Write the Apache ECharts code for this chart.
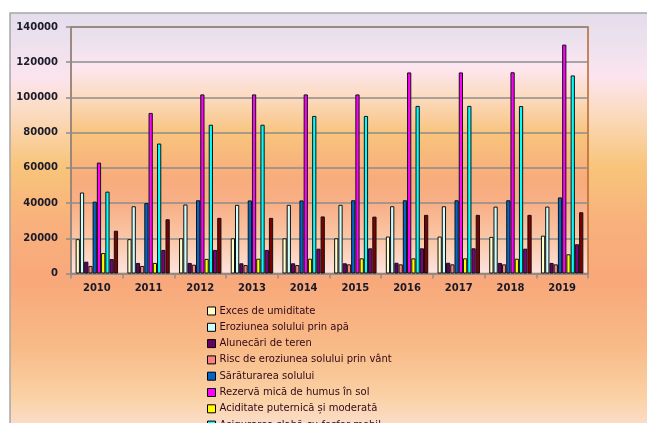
<!DOCTYPE html>
<html>
<head>
<meta charset="utf-8">
<script src="https://cdn.jsdelivr.net/npm/echarts@6/dist/echarts.min.js"></script>
<style>html,body{margin:0;padding:0;background:#fff}#c{width:647px;height:423px}</style>
</head>
<body>
<div id="c"></div>
<script>
var years = ['2010','2011','2012','2013','2014','2015','2016','2017','2018','2019'];
var seriesNames = [
  'Exces de umiditate',
  'Eroziunea solului prin apă',
  'Alunecări de teren',
  'Risc de eroziunea solului prin vânt',
  'Sărăturarea solului',
  'Rezervă mică de humus în sol',
  'Aciditate puternică și moderată',
  'Asigurarea slabă cu fosfor mobil',
  'Asigurarea slabă cu potasiu mobil',
  'Compactarea solului'
];
var excesUmiditate   = [19500, 19500, 20000, 20000, 20000, 20000, 21000, 21000, 20800, 21500];
var eroziuneApa      = [46000, 38200, 39200, 39000, 39000, 39000, 38200, 38200, 38000, 38000];
var alunecari        = [6700, 6000, 6000, 5800, 5800, 5800, 6100, 6100, 6000, 6000];
var riscVant         = [4300, 4300, 5000, 4800, 4800, 5200, 5200, 5200, 5200, 5200];
var saraturare       = [40800, 40000, 41600, 41500, 41500, 41600, 41600, 41600, 41600, 43200];
var humus            = [63000, 91200, 101700, 101700, 101700, 101700, 114200, 114200, 114300, 130000];
var aciditate        = [11600, 6000, 8300, 8400, 8400, 8600, 8600, 8600, 8400, 10900];
var fosfor           = [46500, 73800, 84500, 84500, 89500, 89500, 95200, 95200, 95100, 112500];
var potasiu          = [8200, 13400, 13400, 13400, 14100, 14300, 14300, 14300, 14100, 16600];
var compactare       = [24300, 30800, 31600, 31600, 32400, 32300, 33300, 33300, 33300, 34800];
var allData = [excesUmiditate, eroziuneApa, alunecari, riscVant, saraturare, humus, aciditate, fosfor, potasiu, compactare];
var colors = ['#FFFFCC','#CCFFFF','#660066','#FF8080','#0066CC','#FF00FF','#FFFF00','#00FFFF','#800080','#800000'];
var yTicks = {min: 0, max: 140000, interval: 20000};

var chart = echarts.init(document.getElementById('c'), null, {renderer: 'canvas'});

function lg(stops) {
  return new echarts.graphic.LinearGradient(0, 0, 0, 1, stops);
}

var outerTop = 13, outerBottom = 423;
function off(y){ return (y - outerTop) / (outerBottom - outerTop); }
var outerGrad = lg([
  {offset: 0, color: '#E4DDEC'},
  {offset: off(45), color: '#EEE1EE'},
  {offset: off(75), color: '#FCE4EE'},
  {offset: off(105), color: '#FBDCC4'},
  {offset: off(160), color: '#F8C47A'},
  {offset: off(215), color: '#F8B07C'},
  {offset: off(268), color: '#F8A87A'},
  {offset: off(330), color: '#F8BA86'},
  {offset: off(380), color: '#FAD2A6'},
  {offset: 1, color: '#FCE4E2'}
]);

var gTop = 27, gBot = 273.5;
function po(y){ return (y - gTop) / (gBot - gTop); }
var plotGrad = lg([
  {offset: 0, color: '#E6DFEC'},
  {offset: po(45), color: '#EEE2EE'},
  {offset: po(68), color: '#FDE6F0'},
  {offset: po(95), color: '#FCDCC4'},
  {offset: po(135), color: '#F8C37C'},
  {offset: po(180), color: '#F8AC7C'},
  {offset: po(205), color: '#F8B088'},
  {offset: po(240), color: '#FAC8A8'},
  {offset: 1, color: '#FDE4E0'}
]);

var series = allData.map(function(d, i){
  return {
    name: seriesNames[i],
    type: 'bar',
    data: d,
    barGap: '0%',
    barCategoryGap: '18%',
    itemStyle: {color: colors[i], borderColor: '#111', borderWidth: 1},
    emphasis: {disabled: true},
    animation: false
  };
});

chart.setOption({
  animation: false,
  color: colors,
  graphic: [
    {type: 'rect', z: -10, silent: true,
     shape: {x: 10, y: outerTop, width: 700, height: outerBottom - outerTop + 20},
     style: {fill: outerGrad, stroke: '#A6A6A6', lineWidth: 1.5}}
  ],
  grid: {
    left: 71, right: 59, top: gTop, bottom: 423 - gBot,
    show: true, backgroundColor: plotGrad, borderColor: '#B8652E', borderWidth: 1.5
  },
  legend: {
    orient: 'vertical',
    left: 202, top: 300,
    height: 600,
    itemWidth: 8, itemHeight: 8,
    itemGap: 4.3,
    icon: 'rect',
    itemStyle: {borderColor: '#000', borderWidth: 1},
    textStyle: {fontFamily: 'DejaVu Sans', fontSize: 10, color: '#300818', lineHeight: 12, padding: [0,0,0,-1]},
    data: seriesNames
  },
  xAxis: {
    type: 'category',
    data: years,
    axisLine: {lineStyle: {color: '#8C8C8C', width: 1.5}},
    axisTick: {show: true, length: 5, lineStyle: {color: '#8C8C8C', width: 1.5}},
    axisLabel: {fontFamily: 'DejaVu Sans', fontWeight: 'bold', fontSize: 10, color: '#1a1a2a', margin: 10}
  },
  yAxis: {
    type: 'value',
    min: yTicks.min, max: yTicks.max, interval: yTicks.interval,
    axisLine: {show: true, lineStyle: {color: '#8C8C8C', width: 1.5}},
    axisTick: {show: true, length: 5, lineStyle: {color: '#8C8C8C', width: 1.5}},
    splitLine: {lineStyle: {color: '#8C8C8C', width: 1.5}},
    axisLabel: {fontFamily: 'DejaVu Sans', fontWeight: 'bold', fontSize: 10, color: '#1a1a2a', margin: 13,
      formatter: function(v){ return String(v); }}
  },
  series: series
});
</script>
</body>
</html>
